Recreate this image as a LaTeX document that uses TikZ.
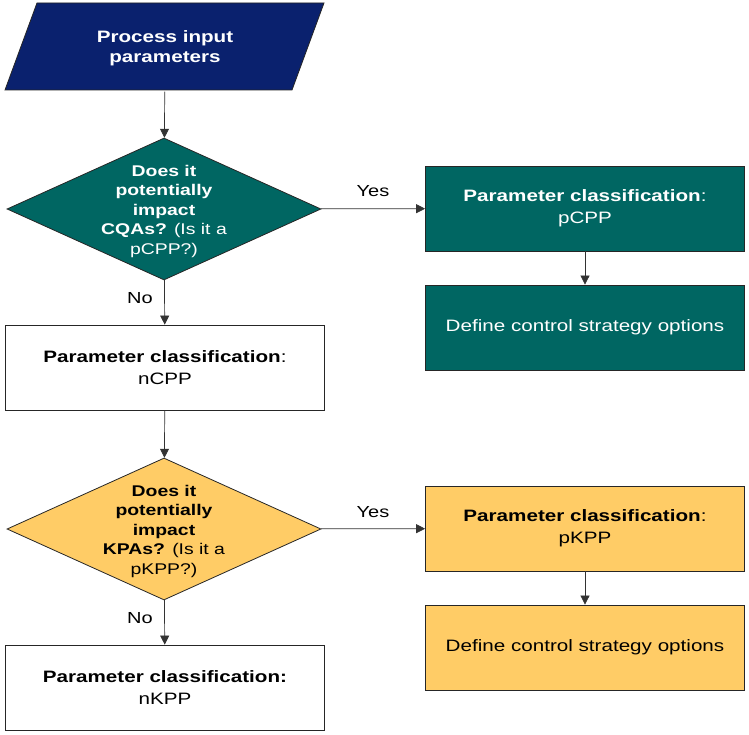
\documentclass[tikz,border=0pt]{standalone}
\usepackage{fontspec}
\setmainfont{Liberation Sans}[FakeStretch=1.25]
\usetikzlibrary{shapes.geometric,arrows.meta}
\definecolor{navy}{RGB}{10,33,110}
\definecolor{teal}{RGB}{0,102,98}
\definecolor{gold}{RGB}{255,204,102}
\begin{document}
\begin{tikzpicture}[x=1pt,y=-1pt]
\tikzstyle{box}=[draw=black!85,line width=0.8pt,shape=rectangle,minimum width=319pt,minimum height=85pt,align=center,font=\fontsize{16.5}{22}\selectfont]
\tikzstyle{decision}=[draw=black!85,line width=0.8pt,shape=diamond,minimum width=314pt,minimum height=142pt,inner sep=0pt]
\tikzstyle{question}=[align=center,font=\fontsize{15.5}{19.5}\selectfont]
\tikzstyle{flow}=[draw=black!80,line width=0.7pt,-{Triangle[length=9pt,width=9pt]}]
\tikzstyle{lbl}=[font=\fontsize{16}{18}\selectfont]
\useasboundingbox (0,0) rectangle (749,735);

% input
\draw[fill=navy,draw=black!85,line width=0.8pt] (37,3) -- (324,3) -- (292,90) -- (5,90) -- cycle;
\node[minimum height=87pt,inner sep=0pt,align=center,text=white,font=\fontsize{16.5}{20}\selectfont\bfseries] at (165,48) (input) {Process input\\parameters};

% first branch
\node[decision,fill=teal] at (164,209) (cqa) {};
\node[question,text=white] at (164,211) (cqatext) {\textbf{Does it}\\\textbf{potentially}\\\textbf{impact}\\\textbf{CQAs?} (Is it a\\pCPP?)};
\node[box,fill=teal,text=white] at (585,208.5) (pcpp) {\textbf{Parameter classification}:\\pCPP};
\node[box,fill=teal,text=white] at (585,327.5) (opt1) {Define control strategy options};
\node[box,fill=white] at (165,367.5) (ncpp) {\textbf{Parameter classification}:\\nCPP};

% second branch
\node[decision,fill=gold] at (164,529) (kpa) {};
\node[question] at (164,531) (kpatext) {\textbf{Does it}\\\textbf{potentially}\\\textbf{impact}\\\textbf{KPAs?} (Is it a\\pKPP?)};
\node[box,fill=gold] at (585,528.5) (pkpp) {\textbf{Parameter classification}:\\pKPP};
\node[box,fill=gold] at (585,647.5) (opt2) {Define control strategy options};
\node[box,fill=white] at (165,687.5) (nkpp) {\textbf{Parameter classification:}\\nKPP};

\node[lbl] at (373,191) (yes1) {Yes};
\node[lbl] at (140,298) (no1) {No};
\node[lbl] at (373,512) (yes2) {Yes};
\node[lbl] at (140,618) (no2) {No};

\draw[flow] (input) -- (cqa);
\draw[flow] (cqa) -- (pcpp);
\draw[flow] (pcpp) -- (opt1);
\draw[flow] (cqa) -- (ncpp);
\draw[flow] (ncpp) -- (kpa);
\draw[flow] (kpa) -- (pkpp);
\draw[flow] (pkpp) -- (opt2);
\draw[flow] (kpa) -- (nkpp);
\end{tikzpicture}
\end{document}
